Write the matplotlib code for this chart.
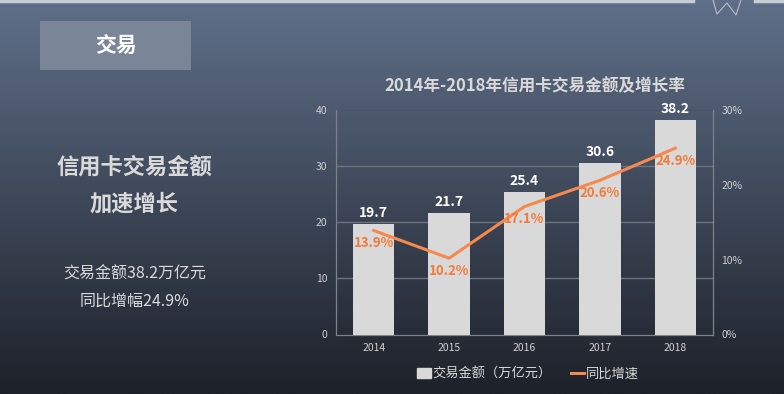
import numpy as np
import matplotlib.pyplot as plt
from matplotlib.patches import Rectangle
from matplotlib.lines import Line2D

plt.rcParams['font.family'] = ['Noto Sans CJK SC', 'DejaVu Sans']

years = ['2014', '2015', '2016', '2017', '2018']
amount = [19.7, 21.7, 25.4, 30.6, 38.2]      # 万亿元
growth = [13.9, 10.2, 17.1, 20.6, 24.9]      # %

bar_color = '#d9d9d9'
line_color = '#f58a4f'
label_orange = '#f47a3a'
txt = '#d9d9d9'

fig = plt.figure(figsize=(7.84, 3.94), dpi=100)

# background gradient
bg = fig.add_axes([0, 0, 1, 1], zorder=-10)
top = np.array([0x5f, 0x6f, 0x89]) / 255
bot = np.array([0x1d, 0x21, 0x29]) / 255
t = np.linspace(0, 1, 256)[:, None]
grad = top * (1 - t) + bot * t
bg.imshow(grad[:, None, :], aspect='auto', extent=[0, 1, 0, 1])
bg.set_xlim(0, 1)
bg.set_ylim(0, 1)
bg.axis('off')

W, H = 784, 394
def fx(px):
    return px / W
def fy(py):
    return 1 - py / H

# top strip and the little "W" doodle
bg.add_line(Line2D([0, fx(693)], [fy(1), fy(1)], color='#c8ccd4', lw=2.5))
bg.add_line(Line2D([fx(755), 1], [fy(1), fy(1)], color='#c8ccd4', lw=2.5))
bg.add_line(Line2D([fx(713), fx(717), fx(727), fx(736), fx(741)],
                   [fy(0), fy(14), fy(3), fy(15), fy(0)], color='#b8bec8', lw=0.8))

# title box on the left
bg.add_patch(Rectangle((fx(40), fy(70)), fx(151), fy(21) - fy(70),
                       color='#7a8698', lw=0))
fig.text(fx(116), fy(46), '交易', ha='center', va='center',
         fontsize=15, fontweight='bold', color='white')

fig.text(fx(134), fy(167), '信用卡交易金额', ha='center', va='center',
         fontsize=16, fontweight='bold', color=txt)
fig.text(fx(134), fy(204), '加速增长', ha='center', va='center',
         fontsize=16, fontweight='bold', color=txt)
fig.text(fx(135), fy(274), '交易金额38.2万亿元', ha='center', va='center',
         fontsize=11.5, color=txt)
fig.text(fx(135), fy(301), '同比增幅24.9%', ha='center', va='center',
         fontsize=11.5, color=txt)

# main chart
ax = fig.add_axes([fx(336), fy(334.5), fx(713 - 336), fy(110) - fy(334.5)])
ax.patch.set_alpha(0)
x = np.arange(len(years))
bars = ax.bar(x, amount, width=0.55, color=bar_color, zorder=3)
ax.set_xlim(-0.5, 4.5)
ax.set_ylim(0, 40)
ax.set_yticks([0, 10, 20, 30, 40])
ax.set_xticks(x)
ax.set_xticklabels(years)
for v in [10, 20, 30]:
    ax.axhline(v, color='#6f747c', lw=1.0, zorder=1)
ax.axhline(40, color='#4d5562', lw=0.6, zorder=1)
ax.tick_params(axis='both', colors='#d0d0d0', labelsize=7.5, length=0, pad=6)
for s in ['top', 'right']:
    ax.spines[s].set_visible(False)
for s in ['left', 'bottom']:
    ax.spines[s].set_color('#7d8188')
    ax.spines[s].set_linewidth(0.9)
for xi, v in zip(x, amount):
    ax.annotate(f'{v}', (xi, v), xytext=(0, 3), textcoords='offset points',
                ha='center', va='bottom', fontsize=10, fontweight='bold',
                color='white', zorder=5)

ax2 = ax.twinx()
ax2.plot(x, growth, color=line_color, lw=2.2, zorder=4)
ax2.set_ylim(0, 30)
ax2.set_yticks([0, 10, 20, 30])
ax2.set_yticklabels(['0%', '10%', '20%', '30%'])
ax2.tick_params(axis='y', colors='#d0d0d0', labelsize=7.5, length=0, pad=6)
for s in ['top', 'left', 'bottom']:
    ax2.spines[s].set_visible(False)
ax2.spines['right'].set_color('#7d8188')
ax2.spines['right'].set_linewidth(0.9)
for xi, v in zip(x, growth):
    ax2.annotate(f'{v}%', (xi, v), xytext=(0, -9), textcoords='offset points',
                 ha='center', va='center', fontsize=9.5, fontweight='bold',
                 color=label_orange, zorder=6)

fig.text(fx(535), fy(86), '2014年-2018年信用卡交易金额及增长率', ha='center',
         va='center', fontsize=12, fontweight='bold', color=txt)

# legend
handles = [Rectangle((0, 0), 1, 1, color=bar_color),
           Line2D([0], [0], color=line_color, lw=2.2)]
leg = fig.legend(handles, ['交易金额（万亿元）', '同比增速'], loc='center',
                 bbox_to_anchor=(fx(528), fy(374)), ncol=2, frameon=False,
                 fontsize=9.5, handlelength=1.0, handleheight=0.8,
                 handletextpad=0.1, columnspacing=1.5, labelcolor=txt)

plt.savefig('out.png', dpi=100)
